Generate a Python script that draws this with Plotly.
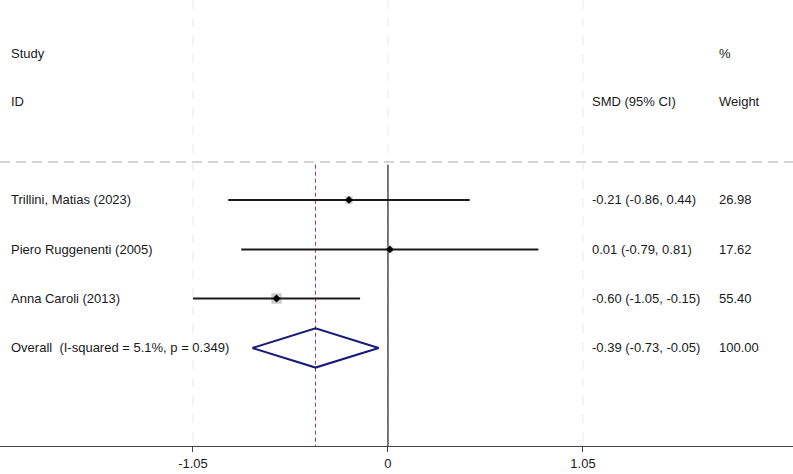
import plotly.graph_objects as go
import math

# ---- data ----
studies = ["Trillini, Matias (2023)", "Piero Ruggenenti (2005)", "Anna Caroli (2013)"]
smd = [-0.21, 0.01, -0.60]
ci_lo = [-0.86, -0.79, -1.05]
ci_hi = [0.44, 0.81, -0.15]
weights = [26.98, 17.62, 55.40]

overall_label = "Overall  (I-squared = 5.1%, p = 0.349)"
overall_est = -0.39
overall_lo = -0.73
overall_hi = -0.05
overall_weight = 100.00

tick_vals = [-1.05, 0, 1.05]
tick_text = ["-1.05", "0", "1.05"]

# ---- layout constants ----
W, H = 793, 474
X_RANGE = [-2.089, 2.181]
Y_RANGE = [5.02, -4.08]      # reversed: first study at row 0
rows = [0, 1.01, 2.01]
overall_row = 3.02
hdr1_row = -2.98
hdr2_row = -2.0
sep_row = -0.776
FONT = "Liberation Sans, Arial, sans-serif"
TXT = "#1a1a1a"
FS = 13

fig = go.Figure()

# background light dashed verticals
for tv in tick_vals:
    fig.add_shape(type="line", xref="x", yref="y", x0=tv, x1=tv, y0=Y_RANGE[1], y1=Y_RANGE[0],
                  line=dict(color="#e8e8e8", width=1, dash="dash"), layer="below")
# horizontal separator
fig.add_shape(type="line", xref="paper", yref="y", x0=0, x1=1, y0=sep_row, y1=sep_row,
              line=dict(color="#c8c8c8", width=1.5, dash="10px,6px"), layer="below")
# null line
fig.add_shape(type="line", xref="x", yref="y", x0=0, x1=0, y0=-0.72, y1=Y_RANGE[0],
              line=dict(color="#222222", width=1.2), layer="below")
# overall estimate line
fig.add_shape(type="line", xref="x", yref="y", x0=overall_est, x1=overall_est, y0=-0.72, y1=Y_RANGE[0],
              line=dict(color="#b03048", width=1, dash="4px,3px"), layer="below")

# weight boxes
fig.add_trace(go.Scatter(
    x=smd, y=rows, mode="markers",
    marker=dict(symbol="square", size=[1.4 * math.sqrt(w) for w in weights],
                color="#b3b3b3", line=dict(width=0)),
    hoverinfo="skip", showlegend=False))

# CI lines
for i in range(len(studies)):
    fig.add_trace(go.Scatter(
        x=[ci_lo[i], ci_hi[i]], y=[rows[i], rows[i]], mode="lines",
        line=dict(color="#1a1a1a", width=2), hoverinfo="skip", showlegend=False))

# point estimates
fig.add_trace(go.Scatter(
    x=smd, y=rows, mode="markers",
    marker=dict(symbol="diamond", size=6, color="#000000"),
    hoverinfo="skip", showlegend=False))

# overall diamond
fig.add_trace(go.Scatter(
    x=[overall_lo, overall_est, overall_hi, overall_est, overall_lo],
    y=[overall_row, overall_row - 0.4, overall_row, overall_row + 0.4, overall_row],
    mode="lines", line=dict(color="#1a1a7a", width=2), hoverinfo="skip", showlegend=False))

# text
def txt(x, y, s):
    fig.add_annotation(xref="paper", yref="y", x=x, y=y, text=s, showarrow=False,
                       xanchor="left", yanchor="middle",
                       font=dict(family=FONT, size=FS, color=TXT))

xl, xs, xw = 9 / W, 590 / W, 717 / W
txt(xl, hdr1_row, "Study")
txt(xl, hdr2_row, "ID")
txt(xw, hdr1_row, "%")
txt(xs, hdr2_row, "SMD (95% CI)")
txt(xw, hdr2_row, "Weight")
for i in range(len(studies)):
    txt(xl, rows[i], studies[i])
    txt(xs, rows[i], f"{smd[i]:.2f} ({ci_lo[i]:.2f}, {ci_hi[i]:.2f})")
    txt(xw, rows[i], f"{weights[i]:.2f}")
txt(xl, overall_row, overall_label)
txt(xs, overall_row, f"{overall_est:.2f} ({overall_lo:.2f}, {overall_hi:.2f})")
txt(xw, overall_row, f"{overall_weight:.2f}")

fig.update_layout(
    width=W, height=H, margin=dict(l=0, r=0, t=0, b=28),
    paper_bgcolor="white", plot_bgcolor="white",
    showlegend=False,
    font=dict(family=FONT, size=FS, color=TXT),
    xaxis=dict(range=X_RANGE, tickvals=tick_vals, ticktext=tick_text,
               showgrid=False, zeroline=False, showline=True, linecolor="#444444", linewidth=1.2,
               ticks="outside", ticklen=5, tickcolor="#444444", tickwidth=1,
               tickfont=dict(family=FONT, size=FS, color=TXT), fixedrange=True),
    yaxis=dict(range=Y_RANGE, visible=False, showgrid=False, zeroline=False, fixedrange=True),
)

fig.write_html("out.html")
